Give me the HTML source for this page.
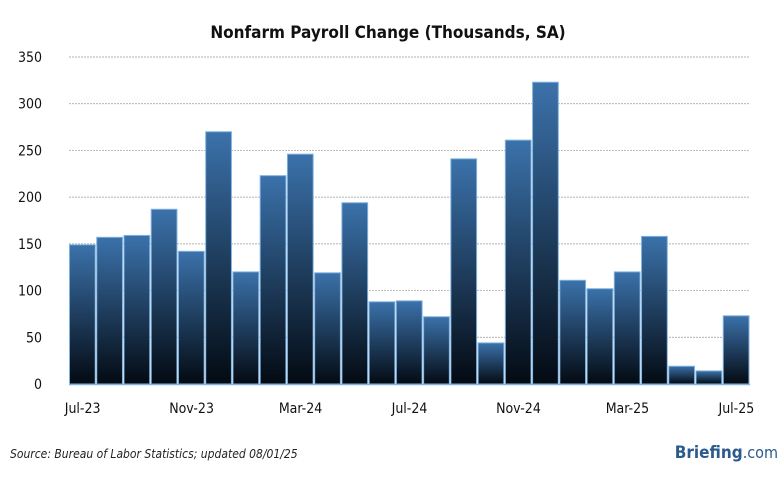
<!DOCTYPE html>
<html><head><meta charset="utf-8"><style>
body{margin:0;background:#fff;font-family:"DejaVu Sans Condensed","Liberation Sans",sans-serif;}
svg text{font-family:"DejaVu Sans Condensed","Liberation Sans",sans-serif;}
</style></head><body>
<svg id="c" width="782" height="475">
<defs><linearGradient id="g" x1="0" y1="0" x2="0" y2="1"><stop offset="0" stop-color="#3b72ab"/><stop offset="1" stop-color="#030a12"/></linearGradient></defs>
<text x="388" y="38" text-anchor="middle" font-size="17" font-weight="bold" fill="#111">Nonfarm Payroll Change (Thousands, SA)</text>
<g id="grid"></g><g id="bars"></g><g id="xl"></g>
<text x="10" y="458" font-size="12" font-style="italic" fill="#222">Source: Bureau of Labor Statistics; updated 08/01/25</text>
<text x="778" y="458" text-anchor="end" font-size="17" font-weight="bold" fill="#2b5a8c">Briefing<tspan font-weight="normal" font-size="16">.com</tspan></text>
</svg>
<script>
const categories=["Jul-23","Aug-23","Sep-23","Oct-23","Nov-23","Dec-23","Jan-24","Feb-24","Mar-24","Apr-24","May-24","Jun-24","Jul-24","Aug-24","Sep-24","Oct-24","Nov-24","Dec-24","Jan-25","Feb-25","Mar-25","Apr-25","May-25","Jun-25","Jul-25"];
const values=[149,157,159,187,142,270,120,223,246,119,194,88,89,72,241,44,261,323,111,102,120,158,19,14,73];
const yTicks=[0,50,100,150,200,250,300,350];
const xLabels=["Jul-23","Nov-23","Mar-24","Jul-24","Nov-24","Mar-25","Jul-25"];
const NS="http://www.w3.org/2000/svg";
const x0=69,x1=750,y0=384,yTop=57,ymax=350;
const slot=(x1-x0)/categories.length;
const y=v=>y0-(v/ymax)*(y0-yTop);
const xc=i=>x0+slot*(i+0.5);
function mk(t,a,p){const e=document.createElementNS(NS,t);for(const k in a)e.setAttribute(k,a[k]);p.appendChild(e);return e;}
const grid=document.getElementById('grid');
yTicks.forEach(v=>{
  if(v>0){const l=mk('line',{x1:x0,x2:x1,y1:y(v),y2:y(v),stroke:'#999','stroke-dasharray':'2,1','stroke-width':0.7},grid);
  
  }
  const t=mk('text',{x:42,y:y(v)+5,'text-anchor':'end','font-size':14,fill:'#111'},grid);t.textContent=v;
  
  
});
const bars=document.getElementById('bars');
values.forEach((v,i)=>{
  const r=mk('rect',{x:x0+slot*i+0.5,y:y(v),width:slot-1.5,height:y0-y(v),fill:'url(#g)',stroke:'#7fb2e0','stroke-width':1},bars);
  
  
});
const base=mk('line',{x1:x0,x2:x1,y1:y0+0.5,y2:y0+0.5,stroke:'#7fb2e0','stroke-width':1.5},bars);


const xl=document.getElementById('xl');
xLabels.forEach(lab=>{
  const i=categories.indexOf(lab);
  const t=mk('text',{x:xc(i),y:413,'text-anchor':'middle','font-size':14,fill:'#111'},xl);t.textContent=lab;
  
  
});
</script>
</body></html>
